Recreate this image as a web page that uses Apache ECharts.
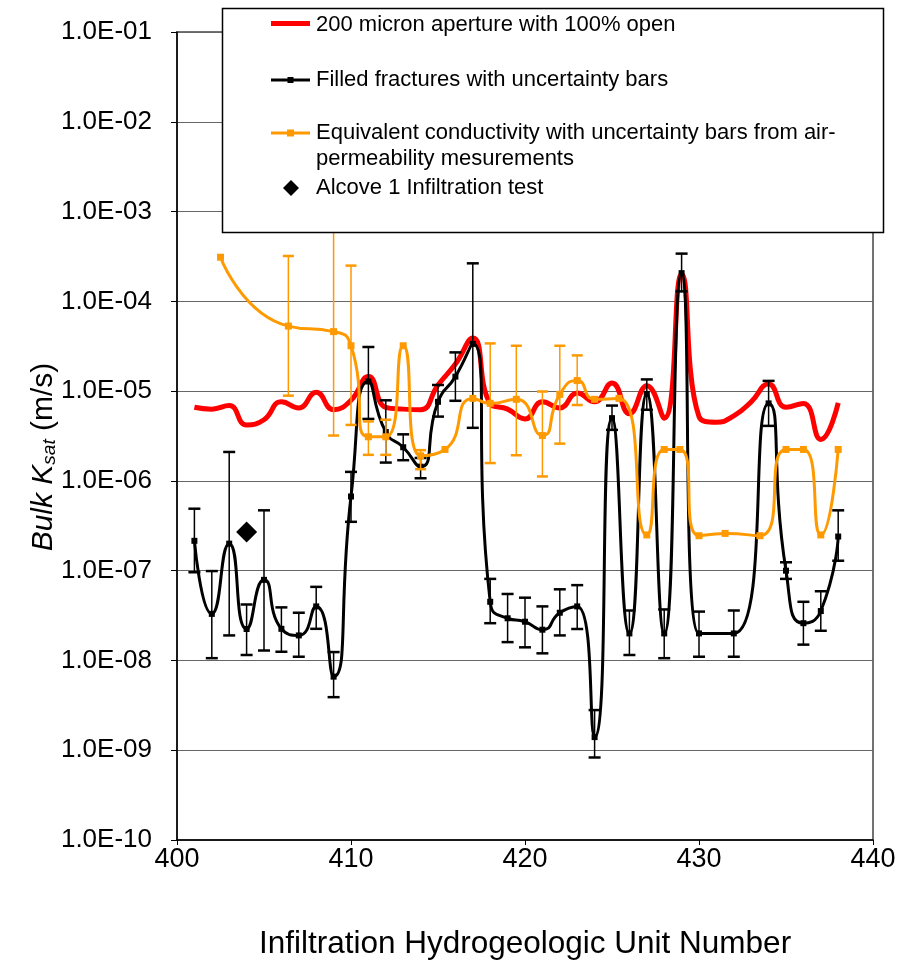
<!DOCTYPE html>
<html>
<head>
<meta charset="utf-8">
<script src="https://cdn.jsdelivr.net/npm/echarts@6/dist/echarts.min.js"></script>
<style>html,body{margin:0;padding:0;background:#fff}#c{width:910px;height:961px}</style>
</head>
<body>
<div id="c"></div>
<script>
// ---------- data ----------
const xTickLabels = ['400', '410', '420', '430', '440'];
const yTickLabels = ['1.0E-10', '1.0E-09', '1.0E-08', '1.0E-07', '1.0E-06', '1.0E-05', '1.0E-04', '1.0E-03', '1.0E-02', '1.0E-01'];

// 200 micron aperture with 100% open
const apertureX = [401, 402, 403, 404, 405, 406, 407, 408, 409, 410, 411, 412, 413, 414, 415, 416, 417, 418, 419,
  420, 421, 422, 423, 424, 425, 426, 427, 428, 429, 430, 431, 432, 433, 434, 435, 436, 437, 438];
const apertureK = [6.6e-6, 6.3e-6, 6.9e-6, 4.2e-6, 4.8e-6, 7.6e-6, 6.5e-6, 9.7e-6, 6.2e-6, 7.9e-6, 1.45e-5, 6.6e-6,
  6.3e-6, 6.2e-6, 1.17e-5, 2.0e-5, 3.9e-5, 7.3e-6, 6.3e-6, 4.9e-6, 7.6e-6, 6.5e-6, 9.5e-6, 7.6e-6, 1.23e-5, 5.6e-6,
  1.15e-5, 5.0e-6, 2.0e-4, 5.2e-6, 4.5e-6, 5.3e-6, 7.6e-6, 1.2e-5, 6.6e-6, 7.3e-6, 2.9e-6, 7.4e-6];

// Filled fractures with uncertainty bars
const filledX = [401, 402, 403, 404, 405, 406, 407, 408, 409, 410, 411, 412, 413, 414, 415, 416, 417, 418, 419,
  420, 421, 422, 423, 424, 425, 426, 427, 428, 429, 430, 432, 434, 435, 436, 437, 438];
const filledK = [2.15e-7, 3.3e-8, 2.0e-7, 2.24e-8, 7.9e-8, 2.25e-8, 1.9e-8, 4.0e-8, 6.6e-9, 6.7e-7, 1.28e-5, 3.5e-6,
  2.37e-6, 1.44e-6, 7.6e-6, 1.45e-5, 3.36e-5, 4.5e-8, 2.95e-8, 2.7e-8, 2.2e-8, 3.4e-8, 4.0e-8, 1.4e-9, 5.0e-6, 2.0e-8,
  9.3e-6, 2.0e-8, 2.06e-4, 2.0e-8, 2.0e-8, 7.3e-6, 1.0e-7, 2.6e-8, 3.55e-8, 2.4e-7];
const filledHigh = [4.9e-7, 9.9e-8, 2.1e-6, 4.2e-8, 4.7e-7, 3.9e-8, 3.4e-8, 6.6e-8, 1.24e-8, 1.26e-6, 3.1e-5, 7.9e-6,
  3.3e-6, 1.8e-6, 1.17e-5, 2.7e-5, 2.65e-4, 8.1e-8, 5.5e-8, 5.0e-8, 4.0e-8, 6.2e-8, 6.9e-8, 2.8e-9, 6.9e-6, 3.6e-8,
  1.35e-5, 3.7e-8, 3.4e-4, 3.5e-8, 3.6e-8, 1.3e-5, 1.24e-7, 4.5e-8, 5.9e-8, 4.7e-7];
const filledLow = [9.6e-8, 1.06e-8, 1.9e-8, 1.15e-8, 1.29e-8, 1.25e-8, 1.1e-8, 2.25e-8, 3.9e-9, 3.5e-7, 4.9e-6, 1.6e-6,
  1.7e-6, 1.07e-6, 5.2e-6, 7.8e-6, 3.9e-6, 2.6e-8, 1.6e-8, 1.4e-8, 1.2e-8, 1.9e-8, 2.24e-8, 8.3e-10, 3.7e-6, 1.15e-8,
  6.2e-6, 1.06e-8, 1.29e-4, 1.1e-8, 1.1e-8, 4.1e-6, 8.1e-8, 1.5e-8, 2.14e-8, 1.29e-7];

// Equivalent conductivity with uncertainty bars from air-permeability measurements
const airX = [402.5, 406.4, 409, 410, 411, 412, 413, 414, 415.4, 417, 418, 419.5, 421, 422, 423, 424, 425.4,
  427, 428, 428.9, 430, 431.5, 433.5, 435, 436, 437, 438];
const airK = [3.1e-4, 5.3e-5, 4.6e-5, 3.2e-5, 3.1e-6, 3.1e-6, 3.2e-5, 1.9e-6, 2.24e-6, 8.3e-6, 7.3e-6, 8.1e-6,
  3.2e-6, 9.2e-6, 1.31e-5, 8.1e-6, 8.3e-6, 2.5e-7, 2.24e-6, 2.24e-6, 2.45e-7, 2.6e-7, 2.45e-7, 2.24e-6, 2.24e-6,
  2.5e-7, 2.24e-6];
const airHigh = [null, 3.2e-4, 3.0e-3, 2.5e-4, 4.6e-6, 4.8e-6, null, 2.2e-6, null, null, 3.4e-5, 3.2e-5,
  9.9e-6, 3.2e-5, 2.5e-5, null, null, null, null, null, null, null, null, null, null, null, null];
const airLow = [null, 8.9e-6, 3.2e-6, 4.2e-6, 1.95e-6, 1.95e-6, null, 1.35e-6, null, null, 1.58e-6, 1.93e-6,
  1.12e-6, 2.6e-6, 7.0e-6, null, null, null, null, null, null, null, null, null, null, null, null];

// Alcove 1 Infiltration test
const alcoveX = [404];
const alcoveK = [2.7e-7];

// ---------- helpers ----------
const FONT = '"Liberation Sans", Arial, sans-serif';
const zip = (xs, ys) => xs.map((x, i) => [x, ys[i]]);
const errData = (xs, lo, hi) => xs.map((x, i) => [x, lo[i], hi[i]]).filter(d => d[1] != null && d[2] != null);

function errRender(color, capW, lw, capLw) {
  return function (params, api) {
    const x = api.value(0);
    const p1 = api.coord([x, api.value(1)]);
    const p2 = api.coord([x, api.value(2)]);
    const h = capW / 2;
    return {
      type: 'group',
      children: [
        { type: 'line', shape: { x1: p1[0], y1: p1[1], x2: p2[0], y2: p2[1] }, style: { stroke: color, lineWidth: lw } },
        { type: 'line', shape: { x1: p1[0] - h, y1: p1[1], x2: p1[0] + h, y2: p1[1] }, style: { stroke: color, lineWidth: capLw } },
        { type: 'line', shape: { x1: p2[0] - h, y1: p2[1], x2: p2[0] + h, y2: p2[1] }, style: { stroke: color, lineWidth: capLw } }
      ]
    };
  };
}

const RED = '#ff0000', ORANGE = '#ff9900', BLACK = '#000000';

const chart = echarts.init(document.getElementById('c'), null, { renderer: 'canvas' });

// legend drawn as graphic elements (box, samples, texts)
const LX0 = 271, LX1 = 310, LTX = 316;
const legendGraphic = [
  { type: 'rect', z: 100, shape: { x: 222.5, y: 8.5, width: 661, height: 224 }, style: { fill: '#fff', stroke: '#000', lineWidth: 1.5 } },
  { type: 'line', z: 101, shape: { x1: LX0, y1: 23.5, x2: LX1, y2: 23.5 }, style: { stroke: RED, lineWidth: 5 } },
  { type: 'text', z: 101, style: { x: LTX, y: 25, text: '200 micron aperture with 100% open', font: '22px ' + FONT, fill: '#000', verticalAlign: 'middle' } },
  { type: 'line', z: 101, shape: { x1: LX0, y1: 80, x2: LX1, y2: 80 }, style: { stroke: BLACK, lineWidth: 3 } },
  { type: 'rect', z: 101, shape: { x: 287.5, y: 77, width: 6, height: 6 }, style: { fill: BLACK } },
  { type: 'text', z: 101, style: { x: LTX, y: 80, text: 'Filled fractures with uncertainty bars', font: '22px ' + FONT, fill: '#000', verticalAlign: 'middle' } },
  { type: 'line', z: 101, shape: { x1: LX0, y1: 133, x2: LX1, y2: 133 }, style: { stroke: ORANGE, lineWidth: 3 } },
  { type: 'rect', z: 101, shape: { x: 287, y: 129.5, width: 7, height: 7 }, style: { fill: ORANGE } },
  { type: 'text', z: 101, style: { x: LTX, y: 133, text: 'Equivalent conductivity with uncertainty bars from air-', font: '22px ' + FONT, fill: '#000', verticalAlign: 'middle' } },
  { type: 'text', z: 101, style: { x: LTX, y: 159, text: 'permeability mesurements', font: '22px ' + FONT, fill: '#000', verticalAlign: 'middle' } },
  { type: 'polygon', z: 101, shape: { points: [[291, 180], [299, 188], [291, 196], [283, 188]] }, style: { fill: BLACK } },
  { type: 'text', z: 101, style: { x: LTX, y: 188, text: 'Alcove 1 Infiltration test', font: '22px ' + FONT, fill: '#000', verticalAlign: 'middle' } },
  // y axis title (Bulk K_sat (m/s))
  {
    type: 'text', z: 101, x: 44, y: 457, rotation: Math.PI / 2,
    style: {
      text: '{a|Bulk K}{s|sat}{b| (m/s)}', align: 'center', verticalAlign: 'middle',
      rich: {
        a: { font: 'italic 30px ' + FONT, fill: '#000' },
        s: { font: 'italic 19px ' + FONT, fill: '#000', verticalAlign: 'bottom' },
        b: { font: '30px ' + FONT, fill: '#000' }
      }
    }
  }
];

const option = {
  backgroundColor: '#ffffff',
  animation: false,
  grid: { left: 177, top: 32, right: 37, bottom: 121, show: true, borderColor: '#444', borderWidth: 1.5, backgroundColor: 'transparent', outerBoundsMode: 'none' },
  xAxis: {
    type: 'value', min: 400, max: 440, interval: 10,
    name: 'Infiltration Hydrogeologic Unit Number', nameLocation: 'middle', nameGap: 88,
    nameTextStyle: { fontFamily: FONT, fontSize: 31.5, color: '#000' },
    axisLine: { show: true, onZero: false, lineStyle: { color: '#000', width: 1.5 } },
    axisTick: { show: true, inside: false, length: 5, lineStyle: { color: '#000', width: 1 } },
    axisLabel: { margin: 6, fontFamily: FONT, fontSize: 27, color: '#000',
      formatter: v => xTickLabels[Math.round((v - 400) / 10)] },
    splitLine: { show: false }
  },
  yAxis: {
    type: 'log', logBase: 10, min: 1e-10, max: 1e-1, splitNumber: 9,
    axisLine: { show: true, lineStyle: { color: '#000', width: 1.5 } },
    axisTick: { show: true, inside: false, length: 6, lineStyle: { color: '#000', width: 1 } },
    axisLabel: { margin: 25, fontFamily: FONT, fontSize: 26, color: '#000',
      formatter: v => yTickLabels[Math.round(Math.log10(v)) + 10] },
    splitLine: { show: true, lineStyle: { color: '#666', width: 1 } },
    minorTick: { show: false }, minorSplitLine: { show: false }
  },
  graphic: legendGraphic,
  series: [
    {
      name: '200 micron aperture with 100% open', type: 'line', data: zip(apertureX, apertureK),
      smooth: 0.5, showSymbol: false, symbol: 'none', lineStyle: { color: RED, width: 5 }, z: 2
    },
    {
      name: 'Filled fractures error', type: 'custom', data: errData(filledX, filledLow, filledHigh),
      encode: { x: 0, y: [1, 2] }, renderItem: errRender(BLACK, 12, 1.5, 2.5), z: 3
    },
    {
      name: 'Filled fractures with uncertainty bars', type: 'line', data: zip(filledX, filledK),
      smooth: 0.6, symbol: 'rect', symbolSize: 6, showAllSymbol: true,
      itemStyle: { color: BLACK, opacity: 1 }, lineStyle: { color: BLACK, width: 3 }, z: 4
    },
    {
      name: 'Air error', type: 'custom', data: errData(airX, airLow, airHigh),
      encode: { x: 0, y: [1, 2] }, renderItem: errRender(ORANGE, 11, 1.5, 2.5), z: 5
    },
    {
      name: 'Equivalent conductivity with uncertainty bars from air-permeability mesurements', type: 'line',
      data: zip(airX, airK), smooth: 0.6, symbol: 'rect', symbolSize: 7, showAllSymbol: true,
      itemStyle: { color: ORANGE, opacity: 1 }, lineStyle: { color: ORANGE, width: 3 }, z: 6
    },
    {
      name: 'Alcove 1 Infiltration test', type: 'scatter', data: zip(alcoveX, alcoveK),
      symbol: 'diamond', symbolSize: 21, itemStyle: { color: BLACK, opacity: 1 }, z: 7
    }
  ]
};
chart.setOption(option);
</script>
</body>
</html>
